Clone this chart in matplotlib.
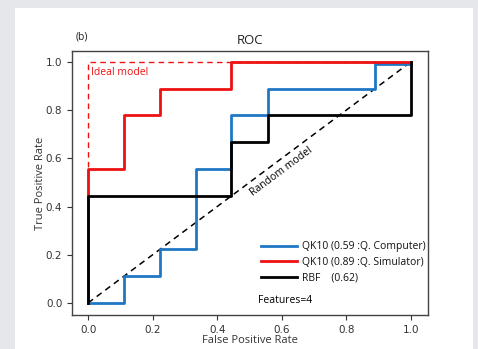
import matplotlib
matplotlib.use("Agg")
import matplotlib.pyplot as plt
from matplotlib.patches import Rectangle

# Data
qc_fpr = [0.0, 0.111, 0.111, 0.222, 0.222, 0.333, 0.333, 0.444, 0.444, 0.556, 0.556, 0.889, 0.889, 1.0]
qc_tpr = [0.0, 0.0, 0.111, 0.111, 0.222, 0.222, 0.556, 0.556, 0.778, 0.778, 0.889, 0.889, 0.992, 0.992]
sim_fpr = [0.0, 0.0, 0.111, 0.111, 0.222, 0.222, 0.444, 0.444, 1.0]
sim_tpr = [0.0, 0.556, 0.556, 0.778, 0.778, 0.889, 0.889, 1.0, 1.0]
rbf_fpr = [0.0, 0.0, 0.444, 0.444, 0.556, 0.556, 1.0, 1.0]
rbf_tpr = [0.0, 0.444, 0.444, 0.667, 0.667, 0.778, 0.778, 1.0]
ideal_fpr = [0.0, 0.0, 1.0]
ideal_tpr = [0.0, 1.0, 1.0]
random_line = [0.0, 1.0]
labels = ["QK10 (0.59 :Q. Computer)", "QK10 (0.89 :Q. Simulator)", "RBF    (0.62)"]
ticks = [0.0, 0.2, 0.4, 0.6, 0.8, 1.0]

TF = "Open Sans"

fig = plt.figure(figsize=(4.78, 3.49), dpi=100)
fig.patch.set_facecolor("#e5e7eb")
card = Rectangle((15/478, 0), 458/478, 341/349, transform=fig.transFigure,
                 facecolor="white", edgecolor="none", zorder=-10)
fig.patches.append(card)

ax = fig.add_axes([72/478, 1-315/349, 356/478, 264/349])
ax.set_facecolor("white")
ax.set_zorder(5)

ax.plot(ideal_fpr, ideal_tpr, color="#ee1111", lw=1.0, ls=(0, (4, 3)))
ax.plot(random_line, random_line, color="black", lw=1.1, ls=(0, (4, 3)))
ax.plot(qc_fpr, qc_tpr, color="#1f77c4", lw=2, label=labels[0])
ax.plot(sim_fpr, sim_tpr, color="#ee1111", lw=2, label=labels[1])
ax.plot(rbf_fpr, rbf_tpr, color="black", lw=2, label=labels[2])

ax.set_xlim(-0.05, 1.053)
ax.set_ylim(-0.05, 1.045)
ax.set_xticks(ticks)
ax.set_yticks(ticks)
ax.tick_params(labelsize=7.5, colors="#333333", length=3.5)
for lab in ax.get_xticklabels() + ax.get_yticklabels():
    lab.set_color("#333333")
for s in ax.spines.values():
    s.set_color("#444444")
    s.set_linewidth(1.0)

ax.set_xlabel("False Positive Rate", fontsize=8, family=TF, color="#333333", labelpad=0)
ax.set_ylabel("True Positive Rate", fontsize=8, family=TF, color="#333333", labelpad=0)
ax.set_title("ROC", fontsize=9.5, family=TF, color="#222222", pad=5)
fig.text(76/478, 1-37/349, "(b)", fontsize=7.5, family=TF, color="#222222", va="center", ha="left", zorder=10)

ax.text(0.01, 0.955, "Ideal model", color="#ee1111", fontsize=7.5, family=TF, va="center", ha="left")
ax.text(0.60, 0.545, "Random model", color="black", fontsize=7.5, family=TF,
        rotation=36.7, rotation_mode="anchor", va="center", ha="center")
ax.text(0.526, 0.01, "Features=4", fontsize=7.5, family=TF, color="black", va="center", ha="left")

leg = ax.legend(loc="lower right", bbox_to_anchor=(1.012, 0.095), frameon=False,
                prop={"family": TF, "size": 7.5}, handlelength=3.5, handletextpad=0.5,
                labelspacing=0.45, borderaxespad=0.2)
for t in leg.get_texts():
    t.set_color("#111111")

fig.savefig("out.png", dpi=100, facecolor=fig.get_facecolor())
